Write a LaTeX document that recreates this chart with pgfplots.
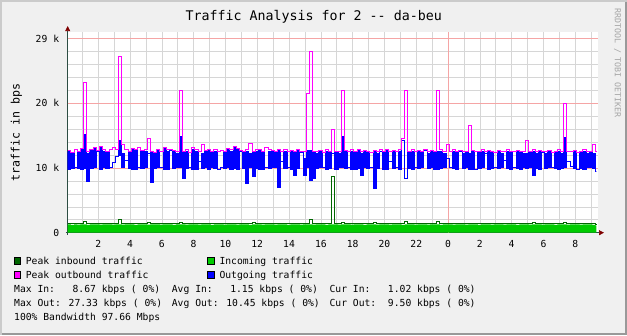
\documentclass[border=0pt]{standalone}
\usepackage{pgfplots}
\pgfplotsset{compat=1.18}
\usepackage{pgfplotstable}
\usetikzlibrary{arrows.meta}
\usepackage{fontspec}
\setmainfont{DejaVu Sans Mono}
\definecolor{bgc}{RGB}{240,240,240}
\definecolor{shadea}{RGB}{203,203,203}
\definecolor{shadeb}{RGB}{153,153,153}
\definecolor{gridc}{RGB}{214,214,214}
\definecolor{mgridc}{RGB}{245,165,165}
\definecolor{axisc}{RGB}{44,77,67}
\definecolor{arrowc}{RGB}{127,0,0}
\definecolor{inc}{RGB}{0,204,0}
\definecolor{pkin}{RGB}{0,102,0}
\definecolor{pkout}{RGB}{255,0,255}
\definecolor{outc}{RGB}{0,0,255}
\definecolor{wmark}{RGB}{165,165,165}
\newcommand\lf{\fontsize{9.7}{11}\selectfont}

% x in hours since midnight, values in kbit/s
\pgfplotstableread{
x lo hi pk gi gp
0.08 9.8 12.5 12.7 1.28 1.40
0.28 9.9 12.2 12.4 1.22 1.40
0.48 10.0 10.0 12.9 1.30 1.40
0.68 9.9 12.4 12.6 1.26 1.40
0.88 9.7 12.8 13.0 1.30 1.42
1.08 9.9 15.1 23.2 1.28 1.70
1.28 7.9 12.3 12.5 1.22 1.40
1.48 9.9 12.7 12.9 1.30 1.40
1.68 10.0 13.0 13.2 1.27 1.40
1.88 12.5 12.5 12.7 1.30 1.40
2.08 9.8 13.1 13.3 1.24 1.40
2.28 10.0 12.6 12.8 1.30 1.40
2.48 9.9 12.4 12.6 1.28 1.40
2.68 10.0 10.0 12.9 1.30 1.40
2.88 10.8 10.8 13.1 1.26 1.40
3.08 11.8 11.8 12.8 1.30 1.40
3.28 12.0 14.2 27.3 1.30 2.10
3.48 10.0 12.3 13.6 1.24 1.40
3.68 11.2 11.2 12.8 1.30 1.40
3.88 9.9 12.4 12.6 1.28 1.40
4.08 9.8 12.8 13.0 1.30 1.40
4.28 9.7 12.7 12.9 1.22 1.40
4.48 10.0 10.0 13.2 1.30 1.40
4.68 9.9 12.5 12.7 1.28 1.40
4.88 10.0 12.6 12.8 1.30 1.40
5.08 12.2 12.2 14.5 1.26 1.50
5.28 7.7 12.4 12.6 1.30 1.40
5.48 9.9 12.2 12.4 1.28 1.40
5.68 10.0 12.7 12.9 1.30 1.40
5.88 10.0 10.0 12.6 1.24 1.40
6.08 9.8 13.0 13.2 1.30 1.40
6.28 9.7 12.6 12.8 1.28 1.40
6.48 12.7 12.7 12.9 1.30 1.40
6.68 9.9 12.5 12.7 1.22 1.40
6.88 10.0 12.3 12.5 1.30 1.40
7.08 10.0 14.8 21.9 1.28 1.60
7.28 8.3 12.4 12.6 1.30 1.40
7.48 9.9 12.6 12.8 1.26 1.40
7.68 10.0 10.0 12.4 1.30 1.40
7.88 9.8 12.9 13.1 1.28 1.40
8.08 9.7 12.6 12.8 1.30 1.40
8.28 11.0 11.0 12.5 1.24 1.40
8.48 9.9 12.3 13.7 1.30 1.40
8.68 10.0 12.5 12.7 1.28 1.40
8.88 9.7 12.7 12.9 1.30 1.40
9.08 10.0 12.4 12.6 1.22 1.40
9.28 9.9 12.6 12.8 1.30 1.40
9.48 9.8 9.8 12.5 1.28 1.40
9.68 10.0 10.0 12.7 1.30 1.40
9.88 9.9 12.4 12.6 1.26 1.40
10.08 10.0 12.8 13.0 1.30 1.40
10.28 9.7 12.6 12.8 1.28 1.40
10.48 9.9 13.1 13.3 1.30 1.40
10.68 9.8 12.8 13.0 1.24 1.40
10.88 12.5 12.5 12.7 1.30 1.40
11.08 9.9 12.4 12.6 1.28 1.40
11.28 7.6 12.6 12.8 1.30 1.40
11.48 10.0 12.3 13.8 1.22 1.40
11.68 8.7 12.4 12.6 1.30 1.50
11.88 9.9 12.6 12.8 1.28 1.40
12.08 9.7 12.7 12.9 1.30 1.40
12.28 9.8 12.4 12.6 1.26 1.40
12.48 10.0 10.0 13.2 1.30 1.40
12.68 9.9 12.6 12.8 1.28 1.40
12.88 10.0 12.5 12.7 1.30 1.40
13.08 10.0 12.4 12.6 1.24 1.40
13.28 7.0 12.7 12.9 1.30 1.40
13.48 11.0 11.0 12.6 1.28 1.40
13.68 9.9 12.6 12.8 1.30 1.40
13.88 10.0 10.0 12.5 1.22 1.40
14.08 9.8 12.5 12.7 1.30 1.40
14.28 8.9 12.4 12.6 1.28 1.40
14.48 9.9 12.7 12.9 1.30 1.40
14.68 12.4 12.4 12.6 1.26 1.40
14.88 8.8 11.5 12.5 1.30 1.40
15.08 10.0 12.7 21.5 1.28 1.40
15.28 8.0 12.7 28.0 1.30 2.00
15.48 8.4 12.4 12.6 1.24 1.40
15.68 9.9 12.3 12.5 1.30 1.40
15.88 10.0 12.5 12.7 1.28 1.40
16.08 10.0 10.0 12.4 1.30 1.40
16.28 9.7 12.6 12.8 1.22 1.40
16.48 9.9 12.4 12.6 1.30 1.40
16.68 12.2 12.2 15.9 1.28 8.67
16.88 9.8 12.4 12.6 1.30 1.40
17.08 10.0 12.3 12.5 1.26 1.40
17.28 10.0 14.8 22.0 1.30 1.60
17.48 9.9 12.5 12.7 1.28 1.40
17.68 10.0 10.0 12.5 1.30 1.40
17.88 9.8 12.6 12.8 1.24 1.40
18.08 9.7 12.4 12.6 1.30 1.40
18.28 9.9 12.7 12.9 1.28 1.40
18.48 8.9 12.3 12.5 1.30 1.40
18.68 10.0 12.5 12.7 1.22 1.40
18.88 9.9 12.4 12.6 1.30 1.40
19.08 10.0 10.0 12.4 1.28 1.40
19.28 6.9 12.5 12.7 1.30 1.50
19.48 9.9 12.3 12.5 1.26 1.40
19.68 12.6 12.6 12.8 1.30 1.40
19.88 9.8 12.4 12.6 1.28 1.40
20.08 9.7 12.7 12.9 1.30 1.40
20.28 11.0 11.0 12.5 1.24 1.40
20.48 9.9 12.5 12.7 1.30 1.40
20.68 10.0 10.0 12.6 1.28 1.40
20.88 9.8 12.6 12.8 1.30 1.40
21.08 14.2 14.2 14.5 1.22 1.40
21.28 8.4 8.4 22.0 1.30 1.80
21.48 9.9 12.4 12.6 1.28 1.40
21.68 9.7 12.6 12.8 1.30 1.40
21.88 10.0 10.0 12.5 1.26 1.40
22.08 9.9 12.5 12.7 1.30 1.40
22.28 10.0 12.4 12.6 1.28 1.40
22.48 12.7 12.7 12.9 1.30 1.40
22.68 9.9 12.3 12.5 1.24 1.40
22.88 10.0 12.5 12.7 1.30 1.40
23.08 9.8 12.4 12.6 1.28 1.40
23.28 9.7 12.6 21.9 1.30 1.70
23.48 9.9 12.6 12.8 1.22 1.40
23.68 10.0 12.3 12.5 1.30 1.40
23.88 11.5 11.5 13.7 1.28 1.40
24.08 10.0 10.0 12.6 1.30 1.40
24.28 9.9 12.6 12.8 1.26 1.40
24.48 9.7 12.4 12.6 1.30 1.40
24.68 12.5 12.5 12.7 1.28 1.40
24.88 9.9 12.3 12.5 1.30 1.40
25.08 10.0 12.4 12.6 1.24 1.40
25.28 9.8 12.3 16.5 1.30 1.40
25.48 9.7 12.5 12.7 1.28 1.40
25.68 9.8 9.8 12.5 1.30 1.40
25.88 9.9 12.4 12.6 1.22 1.40
26.08 10.0 12.6 12.8 1.30 1.40
26.28 12.3 12.3 12.5 1.28 1.40
26.48 9.7 12.5 12.7 1.30 1.40
26.68 9.9 12.4 12.6 1.26 1.40
26.88 10.0 10.0 12.4 1.30 1.40
27.08 9.9 12.5 12.7 1.28 1.40
27.28 10.0 12.3 12.5 1.30 1.40
27.48 11.2 11.2 12.6 1.24 1.40
27.68 9.9 12.6 12.8 1.30 1.40
27.88 9.7 12.4 12.6 1.28 1.40
28.08 10.0 10.0 12.5 1.30 1.40
28.28 9.9 12.5 12.7 1.22 1.40
28.48 9.8 12.4 12.6 1.30 1.40
28.68 10.0 12.3 12.5 1.28 1.40
28.88 9.9 12.3 14.2 1.30 1.40
29.08 10.0 12.4 12.6 1.26 1.40
29.28 8.9 12.6 12.8 1.30 1.50
29.48 9.9 12.3 12.5 1.28 1.40
29.68 9.7 12.5 12.7 1.30 1.40
29.88 12.4 12.4 12.6 1.24 1.40
30.08 9.9 12.3 12.5 1.30 1.40
30.28 10.0 12.5 12.7 1.28 1.40
30.48 10.0 10.0 12.4 1.30 1.40
30.68 9.9 12.4 12.6 1.22 1.40
30.88 9.7 12.6 12.8 1.30 1.40
31.08 9.9 12.3 12.5 1.28 1.40
31.28 10.0 14.7 20.0 1.30 1.60
31.48 11.0 11.0 12.6 1.26 1.40
31.68 10.2 10.2 12.5 1.30 1.40
31.88 9.9 12.5 12.7 1.28 1.40
32.08 9.8 9.8 12.4 1.30 1.40
32.28 9.9 12.4 12.6 1.24 1.40
32.48 9.7 12.6 12.8 1.30 1.40
32.68 10.0 12.3 12.5 1.28 1.40
32.88 10.0 12.4 12.6 1.30 1.40
33.08 9.9 12.3 13.7 1.22 1.40
33.28 9.5 9.5 12.5 1.10 1.30
33.32 9.5 9.5 12.5 1.10 1.30
}\traffic

\pgfplotsset{rrdframe/.style={
  at={(67.7pt,102.3pt)}, anchor=south west,
  scale only axis, width=530.3pt, height=200.6pt,
  xmin=0.08, xmax=33.43, ymin=0, ymax=31}}

\begin{document}
\begin{tikzpicture}
\fill[bgc] (0,0) rectangle (627pt,335pt);
\fill[shadea] (0,0) rectangle (2pt,335pt);
\fill[shadea] (0,333pt) rectangle (627pt,335pt);
\fill[shadeb] (625pt,0) rectangle (627pt,333pt);
\fill[shadeb] (2pt,0) rectangle (627pt,2pt);

\begin{axis}[
  rrdframe,
  axis lines=left,
  axis background/.style={fill=white},
  axis line style={draw=axisc, line width=0.7pt},
  x axis line style={-{Triangle[length=5pt,width=5pt,color=arrowc]}, shorten >=-6pt, shorten <=-2pt},
  y axis line style={-{Triangle[length=5pt,width=5pt,color=arrowc]}, shorten >=-6pt, shorten <=-2pt},
  xtick={2,4,...,32},
  xticklabels={2,4,6,8,10,12,14,16,18,20,22,0,2,4,6,8},
  minor xtick={1,3,...,33},
  ytick={0,10,20,30},
  yticklabels={0,10 k,20 k,29 k},
  minor ytick={2,4,6,8,12,14,16,18,22,24,26,28},
  xmajorgrids=true, xminorgrids=true, ymajorgrids=false, yminorgrids=true,
  major grid style={draw=gridc, line width=0.6pt},
  minor grid style={draw=gridc, line width=0.6pt},
  extra x ticks={24}, extra x tick labels={},
  extra x tick style={xmajorgrids=true, major grid style={draw=mgridc, line width=0.7pt}},
  extra y ticks={10,20,30}, extra y tick labels={},
  extra y tick style={ymajorgrids=true, major grid style={draw=mgridc, line width=0.7pt}},
  major tick length=0pt, minor tick length=0pt,
  /pgf/number format/assume math mode=true,
  tick label style={font=\lf, inner sep=0pt},
  xticklabel style={anchor=north, yshift=-7.3pt},
  yticklabel style={anchor=east, xshift=-8.4pt},
]
% peak inbound (drawn first, partly covered by the incoming area)
\addplot[const plot, draw=pkin, line width=1pt] table[x=x, y=gp] {\traffic};
% incoming traffic area
\addplot[const plot, fill=inc, draw=none] table[x=x, y=gi] {\traffic} \closedcycle;
\end{axis}

% outgoing traffic: per-interval low / high band, stacked in an overlaid axis
\begin{axis}[
  rrdframe,
  axis lines=none, xtick=\empty, ytick=\empty,
  stack plots=y,
]
\addplot[const plot, draw=none] table[x=x, y=lo] {\traffic};
\addplot[const plot, fill=outc, draw=outc, line width=1pt]
  table[x=x, y expr=\thisrow{hi}-\thisrow{lo}] {\traffic} \closedcycle;
\end{axis}

% peak outbound, on top
\begin{axis}[
  rrdframe,
  axis lines=none, xtick=\empty, ytick=\empty,
]
\addplot[const plot, draw=pkout, line width=1pt] table[x=x, y=pk] {\traffic};
\end{axis}

% title
\node[anchor=base, inner sep=0pt, font=\fontsize{13.3}{15}\selectfont] at (313.7pt,314.3pt) {Traffic Analysis for 2 -{}- da-beu};
% y label
\node[rotate=90, inner sep=0pt, font=\fontsize{11.6}{13}\selectfont] at (16.5pt,202.3pt) {traffic in bps};
% watermark
\node[rotate=-90, inner sep=0pt, text=wmark, font=\fontsize{8.3}{9}\selectfont] at (617.5pt,272pt) {RRDTOOL / TOBI OETIKER};

% legend
\draw[fill=pkin, draw=black, line width=0.5pt] (14pt,71pt) rectangle (20.7pt,77.7pt);
\node[anchor=base west, inner sep=0pt, font=\lf] at (25.7pt,70.7pt) {Peak inbound traffic};
\draw[fill=inc, draw=black, line width=0.5pt] (207.7pt,71pt) rectangle (214.4pt,77.7pt);
\node[anchor=base west, inner sep=0pt, font=\lf] at (219.3pt,70.7pt) {Incoming traffic};
\draw[fill=pkout, draw=black, line width=0.5pt] (14pt,57pt) rectangle (20.7pt,63.7pt);
\node[anchor=base west, inner sep=0pt, font=\lf] at (25.7pt,56.7pt) {Peak outbound traffic};
\draw[fill=outc, draw=black, line width=0.5pt] (207.7pt,57pt) rectangle (214.4pt,63.7pt);
\node[anchor=base west, inner sep=0pt, font=\lf] at (219.3pt,56.7pt) {Outgoing traffic};

\node[anchor=base west, inner sep=0pt, font=\lf] at (14pt,42.7pt) {Max In:~~~8.67 kbps (~0\%)};
\node[anchor=base west, inner sep=0pt, font=\lf] at (171.7pt,42.7pt) {Avg In:~~~1.15 kbps (~0\%)};
\node[anchor=base west, inner sep=0pt, font=\lf] at (329.4pt,42.7pt) {Cur In:~~~1.02 kbps (~0\%)};
\node[anchor=base west, inner sep=0pt, font=\lf] at (14pt,28.7pt) {Max Out: 27.33 kbps (~0\%)};
\node[anchor=base west, inner sep=0pt, font=\lf] at (171.7pt,28.7pt) {Avg Out: 10.45 kbps (~0\%)};
\node[anchor=base west, inner sep=0pt, font=\lf] at (329.4pt,28.7pt) {Cur Out:~~9.50 kbps (~0\%)};
\node[anchor=base west, inner sep=0pt, font=\lf] at (14pt,14.7pt) {100\% Bandwidth 97.66 Mbps};

\pgfresetboundingbox
\path (0,0) rectangle (627pt,335pt);
\end{tikzpicture}
\end{document}
